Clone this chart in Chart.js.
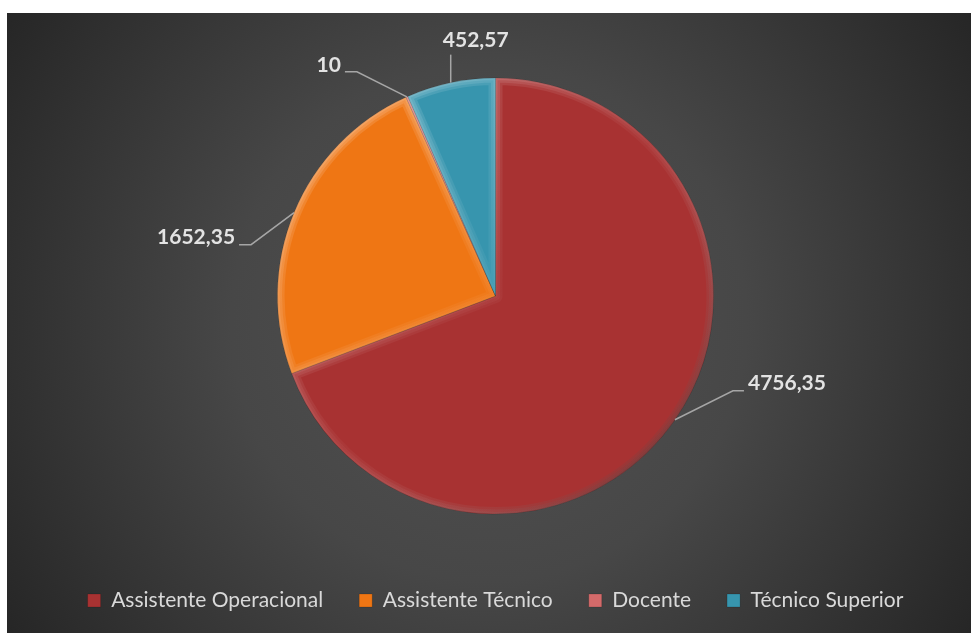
<!DOCTYPE html>
<html>
<head>
<meta charset="utf-8">
<script src="https://cdn.jsdelivr.net/npm/chart.js@4.4.1/dist/chart.umd.min.js"></script>
<style>
    html, body { margin: 0; padding: 0; background: #fff; }
    #wrap { position: absolute; left: 7px; top: 13px; width: 964px; height: 620px; }
</style>
</head>
<body>
<div id="wrap"><canvas id="pie"></canvas></div>
<script>
const categories = ["Assistente Operacional", "Assistente Técnico", "Docente", "Técnico Superior"]
const values = [4756.35, 1652.35, 10, 452.57]
const sliceColors = ['#A83232', '#EF7614', '#D46A6A', '#3795AE']

// where each value label sits, relative to the point on the rim at the slice middle
const labelSpots = [
    { dx: 73, dy: -37, align: 'left' },
    { dx: -59, dy: 25, align: 'right' },
    { dx: -66, dy: -32, align: 'right' },
    { dx: 25, dy: -42, align: 'center' }
]

function fmt(v) {
    return String(v).replace('.', ',')
}

const bgPlugin = {
    id: 'bg',
    beforeDraw(chart) {
        const { ctx, width, height } = chart
        const g = ctx.createRadialGradient(width / 2, height / 2, 0, width / 2, height / 2, Math.hypot(width, height) / 2)
        g.addColorStop(0, '#525252')
        g.addColorStop(0.45, '#474747')
        g.addColorStop(1, '#262626')
        ctx.save()
        ctx.fillStyle = g
        ctx.fillRect(0, 0, width, height)
        ctx.restore()
    }
}

// soft bevel on each slice, light from top left
const bevelPlugin = {
    id: 'bevel',
    afterDatasetsDraw(chart) {
        const ctx = chart.ctx
        chart.getDatasetMeta(0).data.forEach(arc => {
            const p = arc.getProps(['x', 'y', 'startAngle', 'endAngle', 'outerRadius'], true)
            const R = p.outerRadius
            ctx.save()
            ctx.beginPath()
            ctx.moveTo(p.x, p.y)
            ctx.arc(p.x, p.y, R, p.startAngle, p.endAngle)
            ctx.closePath()
            ctx.clip()
            const lg = ctx.createLinearGradient(p.x - R, p.y - R, p.x + R, p.y + R)
            lg.addColorStop(0, 'rgba(255,255,255,0.4)')
            lg.addColorStop(0.5, 'rgba(255,255,255,0.08)')
            lg.addColorStop(1, 'rgba(0,0,0,0.5)')
            ctx.strokeStyle = lg
            ctx.lineJoin = 'round'
            ;[14, 9, 4].forEach(w => {
                ctx.globalAlpha = 0.4
                ctx.lineWidth = w
                ctx.stroke()
            })
            ctx.restore()
        })
    }
}

const labelPlugin = {
    id: 'sliceLabels',
    afterDatasetsDraw(chart) {
        const ctx = chart.ctx
        const ds = chart.data.datasets[0]
        chart.getDatasetMeta(0).data.forEach((arc, i) => {
            const p = arc.getProps(['x', 'y', 'startAngle', 'endAngle', 'outerRadius'], true)
            const mid = (p.startAngle + p.endAngle) / 2
            const ax = p.x + p.outerRadius * Math.cos(mid)
            const ay = p.y + p.outerRadius * Math.sin(mid)
            const spot = labelSpots[i]
            const tx = ax + spot.dx
            const ty = ay + spot.dy

            ctx.save()
            ctx.strokeStyle = '#a6a6a6'
            ctx.lineWidth = 1.5
            ctx.beginPath()
            ctx.moveTo(ax, ay)
            if (spot.align == 'left') {
                ctx.lineTo(tx - 15, ty + 8)
                ctx.lineTo(tx - 4, ty + 8)
            } else if (spot.align == 'right') {
                ctx.lineTo(tx + 16, ty + 7)
                ctx.lineTo(tx + 4, ty + 7)
            } else {
                ctx.lineTo(ax, ty + 14)
            }
            ctx.stroke()

            ctx.fillStyle = '#e3e3e3'
            ctx.font = 'bold 21px Lato'
            ctx.textAlign = spot.align
            ctx.textBaseline = 'middle'
            ctx.fillText(fmt(ds.data[i]), tx, ty)
            ctx.restore()
        })
    }
}

const ctx = document.getElementById('pie')
const pieChart = new Chart(ctx, {
    type: 'pie',
    data: {
        labels: categories,
        datasets: [{
            data: values,
            backgroundColor: sliceColors,
            borderColor: 'rgba(0,0,0,0.15)',
            borderWidth: 1,
            radius: 218
        }]
    },
    options: {
        responsive: true,
        maintainAspectRatio: false,
        animation: false,
        layout: {
            padding: { top: 25, bottom: 12, left: 13, right: 0 }
        },
        plugins: {
            legend: {
                position: 'bottom',
                labels: {
                    color: '#d9d9d9',
                    font: { family: 'Lato', size: 21 },
                    boxWidth: 13,
                    boxHeight: 13,
                    padding: 36
                }
            },
            tooltip: { enabled: false }
        }
    },
    plugins: [bgPlugin, bevelPlugin, labelPlugin]
})
</script>
</body>
</html>
